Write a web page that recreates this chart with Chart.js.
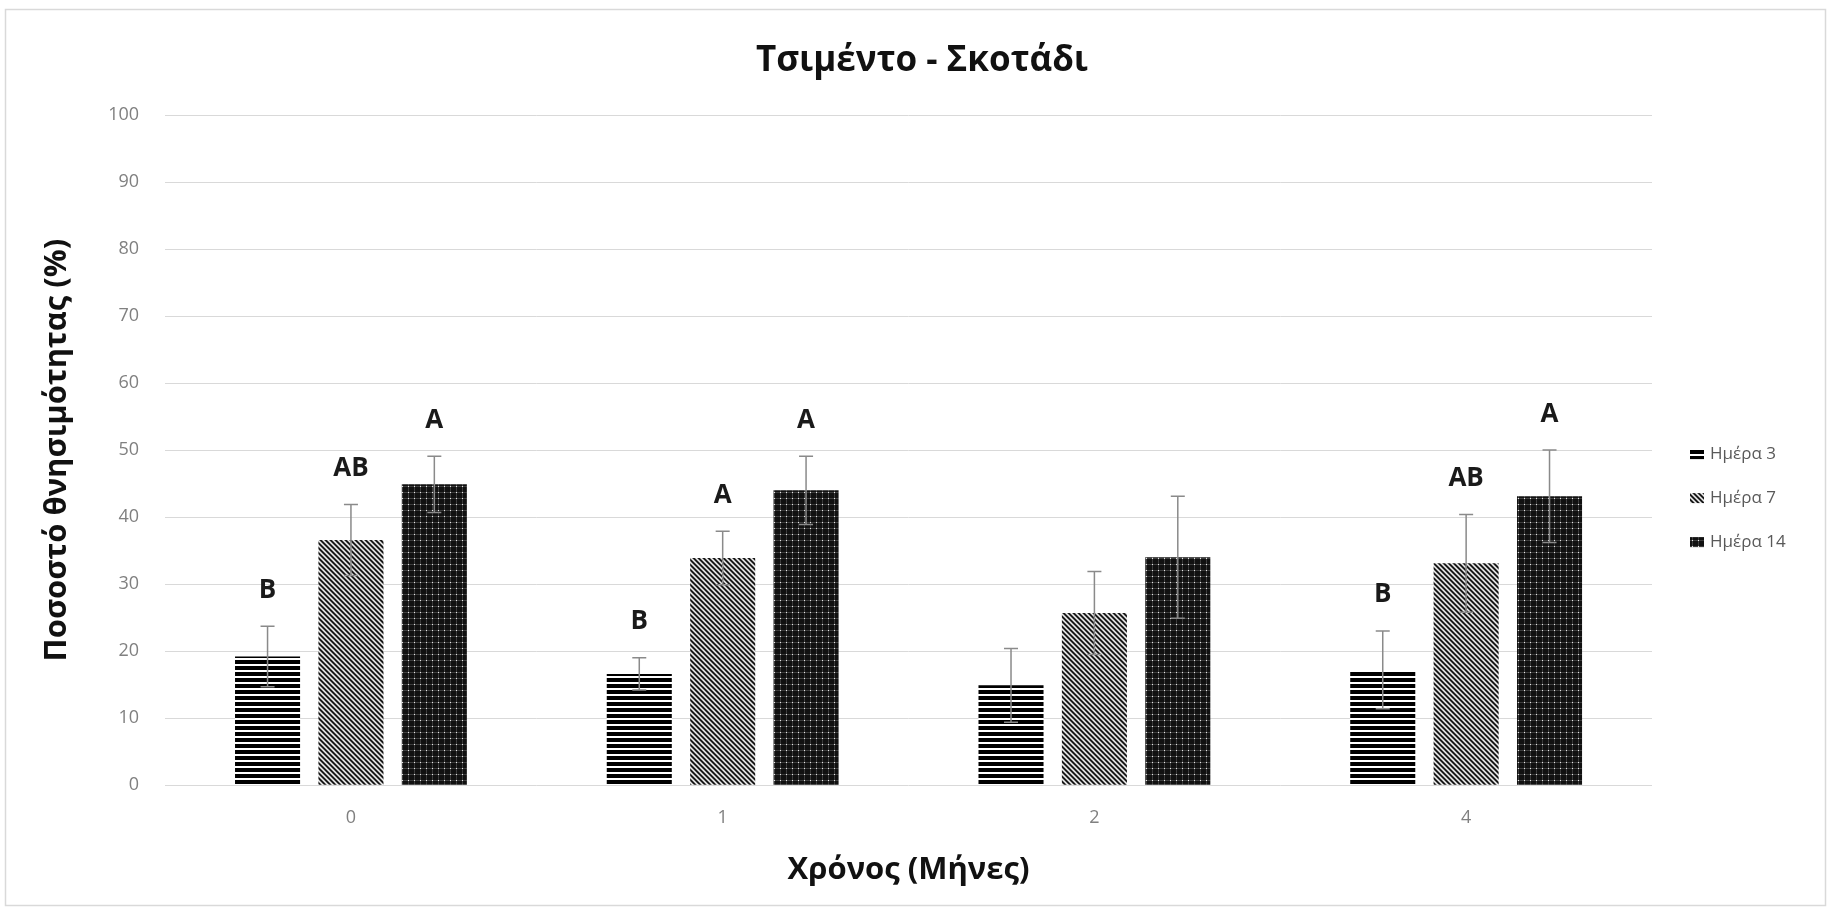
<!DOCTYPE html>
<html lang="el">
<head>
<meta charset="utf-8">
<title>Τσιμέντο - Σκοτάδι</title>
<script src="https://cdn.jsdelivr.net/npm/chart.js@4.4.1/dist/chart.umd.min.js"></script>
<style>
  html, body { margin: 0; padding: 0; background: #ffffff; }
  #wrap { position: relative; width: 1831px; height: 910px; }
</style>
</head>
<body>
<div id="wrap"><canvas id="chart" width="1831" height="910"></canvas></div>
<script>
// Time points (months)
const months = ['0', '1', '2', '4'];

// Mortality (%) per sampling day, with standard errors and significance letters
const day3 = [19.2, 16.6, 14.9, 17.2];
const day3Err = [4.5, 2.4, 5.5, 5.8];
const day3Letters = ['B', 'B', '', 'B'];

const day7 = [36.6, 33.9, 25.7, 33.1];
const day7Err = [5.3, 4.0, 6.2, 7.3];
const day7Letters = ['AB', 'A', '', 'AB'];

const day14 = [44.9, 44.0, 34.0, 43.1];
const day14Err = [4.2, 5.1, 9.1, 6.9];
const day14Letters = ['A', 'A', '', 'A'];

const seriesNames = ['Ημέρα 3', 'Ημέρα 7', 'Ημέρα 14'];

const FONT = '"Open Sans", "Noto Sans", "DejaVu Sans", sans-serif';
Chart.defaults.font.family = FONT;

// ---- fill patterns ----
function tilePattern(size, paint) {
  const c = document.createElement('canvas');
  c.width = size; c.height = size;
  const g = c.getContext('2d');
  paint(g, size);
  return g.createPattern(c, 'repeat');
}

// dark horizontal stripes
const stripesH = tilePattern(6, (g, s) => {
  g.fillStyle = '#ffffff'; g.fillRect(0, 0, s, s);
  g.fillStyle = '#000000'; g.fillRect(0, 0, s, 4);
});

// downward diagonal stripes
const stripesD = tilePattern(5, (g, s) => {
  const shades = ['#1a1a1a', '#1a1a1a', '#999999', '#f0f0f0', '#999999'];
  for (let y = 0; y < s; y++) {
    for (let x = 0; x < s; x++) {
      g.fillStyle = shades[((x - y) % s + s) % s];
      g.fillRect(x, y, 1, 1);
    }
  }
});

// dark dotted grid
const dotGrid = tilePattern(6, (g, s) => {
  g.fillStyle = '#111111'; g.fillRect(0, 0, s, s);
  g.fillStyle = '#3c3c3c';
  g.fillRect(0, 0, s, 1);
  g.fillRect(0, 0, 1, s);
  g.fillStyle = '#e6e6e6'; g.fillRect(0, 0, 1, 1);
});

// ---- plugins ----
const pageFrame = {
  id: 'pageFrame',
  beforeDraw(chart) {
    const { ctx, width, height } = chart;
    ctx.save();
    ctx.fillStyle = '#ffffff';
    ctx.fillRect(0, 0, width, height);
    ctx.strokeStyle = '#d9d9d9';
    ctx.lineWidth = 1.5;
    ctx.strokeRect(5.5, 9.5, width - 11, height - 14);
    ctx.restore();
  }
};

const errorBars = {
  id: 'errorBars',
  afterDatasetsDraw(chart) {
    const { ctx } = chart;
    const y = chart.scales.y;
    chart.data.datasets.forEach((ds, i) => {
      const meta = chart.getDatasetMeta(i);
      if (meta.hidden) return;
      meta.data.forEach((bar, j) => {
        const v = ds.data[j];
        const e = ds.errors[j];
        const yTop = y.getPixelForValue(v + e);
        const yBot = y.getPixelForValue(v - e);
        const cap = 7;
        ctx.save();
        ctx.strokeStyle = '#8a8a8a';
        ctx.lineWidth = 1.5;
        ctx.beginPath();
        ctx.moveTo(bar.x, yBot); ctx.lineTo(bar.x, yTop);
        ctx.moveTo(bar.x - cap, yTop); ctx.lineTo(bar.x + cap, yTop);
        ctx.moveTo(bar.x - cap, yBot); ctx.lineTo(bar.x + cap, yBot);
        ctx.stroke();
        const letter = ds.letters[j];
        if (letter) {
          ctx.fillStyle = '#1a1a1a';
          ctx.font = 'bold 26px ' + FONT;
          ctx.textAlign = 'center';
          ctx.textBaseline = 'middle';
          ctx.fillText(letter, bar.x, yTop - 36);
        }
        ctx.restore();
      });
    });
  }
};

const sideLegend = {
  id: 'sideLegend',
  afterDraw(chart) {
    const { ctx, chartArea } = chart;
    const x = chartArea.right + 38;
    const midY = (chartArea.top + chartArea.bottom) / 2 + 48;
    const step = 44;
    ctx.save();
    chart.data.datasets.forEach((ds, i) => {
      const cy = midY + (i - 1) * step;
      ctx.fillStyle = ds.backgroundColor;
      ctx.fillRect(x, cy - 5, 14, 10);
      ctx.fillStyle = '#595959';
      ctx.font = '17px ' + FONT;
      ctx.textAlign = 'left';
      ctx.textBaseline = 'middle';
      ctx.fillText(ds.label, x + 20, cy);
    });
    ctx.restore();
  }
};

new Chart(document.getElementById('chart'), {
  type: 'bar',
  data: {
    labels: months,
    datasets: [
      { label: seriesNames[0], data: day3, errors: day3Err, letters: day3Letters, backgroundColor: stripesH, borderWidth: 0 },
      { label: seriesNames[1], data: day7, errors: day7Err, letters: day7Letters, backgroundColor: stripesD, borderWidth: 0 },
      { label: seriesNames[2], data: day14, errors: day14Err, letters: day14Letters, backgroundColor: dotGrid, borderWidth: 0 }
    ]
  },
  options: {
    responsive: false,
    animation: false,
    devicePixelRatio: 1,
    layout: { padding: { left: 13, right: 0, top: 0, bottom: 0 } },
    datasets: { bar: { barPercentage: 0.78, categoryPercentage: 0.673 } },
    plugins: {
      legend: { display: false },
      tooltip: { enabled: false },
      title: {
        display: true,
        text: 'Τσιμέντο - Σκοτάδι',
        color: '#111111',
        font: { size: 35, weight: 'bold' },
        padding: { top: 40, bottom: 33 }
      }
    },
    scales: {
      x: {
        type: 'category',
        grid: { display: false },
        border: { display: false },
        ticks: { color: '#808080', font: { size: 18 }, padding: 14 },
        title: {
          display: true,
          text: 'Χρόνος (Μήνες)',
          color: '#111111',
          font: { size: 31, weight: 'bold' },
          padding: { top: 9, bottom: 21 }
        }
      },
      y: {
        min: 0,
        max: 100,
        grid: { color: '#d9d9d9', lineWidth: 1, drawTicks: false },
        border: { display: false },
        ticks: { stepSize: 10, color: '#808080', font: { size: 18 }, padding: 26 },
        title: {
          display: true,
          text: 'Ποσοστό θνησιμότητας (%)',
          color: '#111111',
          font: { size: 31, weight: 'bold' },
          padding: { top: 26, bottom: 6 }
        }
      },
      legendSpace: {
        type: 'linear',
        position: 'right',
        display: true,
        grid: { display: false },
        ticks: { display: false },
        border: { display: false },
        afterFit(scale) { scale.width = 179; }
      }
    }
  },
  plugins: [pageFrame, errorBars, sideLegend]
});
</script>
</body>
</html>
